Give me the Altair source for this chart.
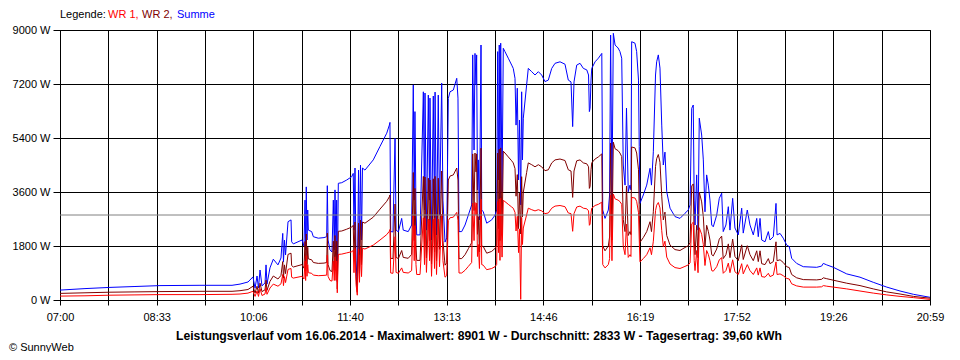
import altair as alt
import pandas as pd

# time of day in minutes after midnight
TIME_MIN = [
    420.0, 444.1, 468.2, 492.3, 516.4, 555.0, 585.9, 593.6, 601.3, 606.1,
    608.1, 610.0, 611.4, 612.9, 614.8, 617.7, 618.7, 619.6, 622.5, 625.7,
    630.2, 633.1, 634.8, 635.5, 636.5, 637.5, 639.9, 642.8, 643.4, 645.0,
    653.4, 655.3, 656.3, 656.9, 657.5, 658.2, 658.9, 659.5, 662.7, 664.3,
    669.1, 674.6, 677.2, 677.8, 678.5, 680.4, 682.3, 683.6, 684.5, 685.2,
    686.2, 686.8, 687.4, 688.4, 691.7, 696.5, 701.3, 702.8, 703.5, 704.5,
    705.5, 706.7, 707.9, 708.8, 709.8, 710.8, 711.7, 714.1, 722.1, 728.6,
    735.1, 737.6, 738.2, 738.9, 741.1, 743.1, 744.1, 746.3, 749.5, 751.0,
    755.8, 759.1, 760.7, 761.6, 762.3, 763.3, 764.0, 767.2, 770.4, 771.5,
    772.0, 773.4, 775.2, 776.4, 776.8, 778.3, 780.0, 781.2, 781.7, 783.1,
    784.8, 786.0, 788.1, 789.3, 791.3, 792.9, 794.5, 796.1, 799.3, 802.6,
    803.8, 804.8, 807.4, 810.6, 813.8, 817.0, 818.0, 819.3, 820.2, 821.2,
    821.8, 822.6, 823.4, 824.5, 826.0, 826.7, 828.2, 831.5, 836.3, 839.5,
    841.1, 842.1, 842.9, 843.6, 844.3, 845.0, 846.3, 847.5, 849.1, 852.3,
    855.6, 857.1, 858.8, 859.8, 861.0, 862.2, 863.1, 864.3, 865.2, 866.0,
    866.8, 870.0, 871.6, 874.9, 878.1, 881.3, 884.5, 887.7, 890.9, 894.2,
    897.4, 902.2, 907.0, 910.2, 912.8, 914.4, 915.7, 918.3, 921.5, 924.7,
    928.0, 929.7, 930.5, 931.2, 932.1, 932.8, 936.0, 939.2, 942.5, 943.4,
    945.6, 948.8, 950.0, 951.0, 952.3, 953.6, 955.3, 958.2, 960.0, 961.7,
    963.2, 964.9, 966.3, 968.0, 969.7, 970.6, 971.3, 974.5, 976.1, 977.9,
    978.6, 979.3, 982.5, 985.8, 989.0, 990.4, 992.2, 994.3, 995.4, 997.0,
    998.6, 1000.3, 1001.8, 1003.4, 1005.1, 1008.3, 1013.1, 1017.9, 1022.7, 1025.9,
    1027.6, 1029.2, 1030.7, 1031.6, 1032.4, 1034.0, 1035.3, 1036.5, 1038.8, 1040.4,
    1042.0, 1043.6, 1045.2, 1046.8, 1048.5, 1050.0, 1053.3, 1055.8, 1058.1, 1059.6,
    1062.2, 1064.5, 1066.1, 1068.7, 1070.9, 1074.1, 1077.4, 1078.9, 1082.8, 1085.4,
    1088.6, 1091.9, 1093.4, 1095.1, 1096.7, 1099.9, 1103.1, 1104.7, 1107.9, 1110.5,
    1111.5, 1114.4, 1117.5, 1120.8, 1123.3, 1125.6, 1130.4, 1136.8, 1149.7, 1154.5,
    1156.1, 1159.4, 1165.8, 1178.7, 1191.5, 1204.3, 1217.3, 1230.1, 1243.0, 1259.0,
]

SUMME = [
    330, 380, 420, 450, 480, 490, 490, 530, 600, 770,
    390, 800, 400, 1000, 470, 570, 1170, 530, 1070, 1360,
    1170, 1400, 2220, 1270, 2000, 1500, 2610, 2670, 1940, 1870,
    2000, 1800, 3330, 1670, 3770, 2000, 3000, 2330, 2280, 2110,
    2060, 2080, 2110, 3810, 2000, 1670, 1600, 3330, 1670, 3670,
    1670, 3330, 610, 3890, 3910, 4000, 4110, 4220, 2330, 4400,
    1330, 430, 4330, 1500, 4500, 2000, 4400, 4330, 4670, 5120,
    5560, 5830, 5920, 2280, 2270, 5390, 2330, 2270, 2720, 2330,
    2280, 2500, 7170, 3330, 6280, 3000, 2170, 2170, 6940, 3000,
    6900, 2330, 6830, 3330, 6730, 2000, 6800, 2670, 6930, 2170,
    6830, 2830, 7230, 3330, 1930, 2070, 6720, 6940, 7000, 7390,
    6730, 2280, 2280, 2500, 2830, 3170, 8170, 5000, 8220, 7170,
    8170, 3670, 4670, 2670, 8500, 3000, 2940, 2560, 2670, 2830,
    3000, 8280, 4000, 8500, 3330, 8560, 3610, 8390, 8280, 8060,
    7830, 7720, 7390, 5830, 7060, 4000, 6000, 3170, 6940, 4670,
    6060, 7170, 7720, 7610, 7500, 7610, 7500, 7280, 7330, 7720,
    7890, 7940, 7860, 7330, 7270, 5780, 7270, 7830, 7890, 7720,
    7670, 7500, 6280, 6390, 7330, 7720, 7940, 8060, 8220, 3000,
    2720, 3000, 3500, 8830, 3330, 8890, 8500, 8400, 8280, 8060,
    4500, 3830, 6400, 3610, 3830, 3670, 8610, 8560, 8280, 7330,
    5110, 3220, 3500, 3830, 4390, 3830, 4940, 7500, 7940, 8170,
    7730, 5830, 4500, 4930, 3610, 3060, 2780, 2720, 2890, 3000,
    3170, 6390, 6500, 3330, 2500, 4170, 2330, 6060, 5500, 4670,
    2940, 4170, 3830, 3330, 2500, 2440, 2830, 3390, 3560, 2280,
    2500, 3110, 2330, 3390, 2400, 2170, 3060, 2230, 3000, 2500,
    2170, 2720, 2110, 2720, 2000, 1940, 2280, 2000, 2110, 3220,
    2170, 2220, 2060, 1830, 1780, 1390, 1220, 1110, 1090, 1130,
    1220, 1170, 1090, 870, 760, 590, 430, 300, 190, 90,
]

WR2 = [
    220, 240, 260, 270, 280, 290, 290, 310, 350, 460,
    230, 460, 230, 560, 280, 340, 660, 320, 620, 800,
    700, 820, 1280, 730, 1170, 880, 1520, 1560, 1150, 1100,
    1180, 1060, 1950, 980, 2200, 1180, 1760, 1370, 1340, 1250,
    1220, 1230, 1250, 2230, 1180, 980, 950, 1960, 990, 2150,
    990, 1960, 370, 2290, 2300, 2360, 2430, 2490, 1380, 2600,
    790, 260, 2560, 890, 2660, 1180, 2600, 2560, 2760, 3030,
    3290, 3440, 3500, 1390, 1380, 3200, 1420, 1380, 1650, 1420,
    1390, 1520, 4250, 1980, 3720, 1790, 1320, 1320, 4120, 1790,
    4100, 1400, 4060, 1980, 4000, 1200, 4040, 1600, 4120, 1300,
    4060, 1690, 4300, 1980, 1160, 1240, 4000, 4130, 4170, 4400,
    4000, 1380, 1380, 1510, 1710, 1910, 4870, 2980, 4900, 4270,
    4870, 2190, 2780, 1600, 5060, 1800, 1780, 1560, 1620, 1720,
    1820, 4900, 2380, 5030, 1980, 5070, 2150, 4960, 4900, 4770,
    4640, 4570, 4380, 3460, 4180, 2380, 3560, 2200, 4110, 2770,
    3590, 4250, 4570, 4510, 4440, 4510, 4440, 4310, 4340, 4570,
    4670, 4700, 4650, 4340, 4300, 3420, 4300, 4640, 4670, 4570,
    4540, 4440, 3720, 3780, 4340, 4570, 4700, 4770, 4870, 1800,
    1640, 1800, 2100, 5230, 2000, 5260, 5040, 4980, 4900, 4780,
    2680, 2280, 3800, 2150, 2280, 2180, 5100, 5070, 4900, 4340,
    3030, 1920, 2080, 2280, 2610, 2280, 2940, 4450, 4710, 4850,
    4590, 3460, 2670, 2930, 2150, 1830, 1680, 1650, 1750, 1810,
    1910, 3800, 3870, 2000, 1510, 2490, 1410, 3600, 3270, 2780,
    1770, 2490, 2290, 2000, 1510, 1470, 1700, 2030, 2130, 1380,
    1510, 1870, 1410, 2030, 1450, 1310, 1840, 1350, 1810, 1510,
    1310, 1640, 1280, 1640, 1210, 1180, 1380, 1210, 1280, 1940,
    1310, 1340, 1250, 1110, 1080, 850, 740, 680, 670, 690,
    740, 710, 660, 560, 480, 370, 270, 200, 120, 60,
]

WR1 = [
    130, 140, 160, 170, 180, 180, 190, 200, 230, 290,
    120, 300, 120, 380, 150, 200, 420, 190, 400, 530,
    460, 540, 850, 480, 780, 580, 1020, 1050, 760, 730,
    790, 700, 1300, 650, 1480, 790, 1180, 910, 890, 830,
    810, 820, 830, 1500, 790, 650, 630, 1300, 650, 1440,
    650, 1300, 240, 1520, 1530, 1570, 1610, 1650, 910, 1720,
    520, 160, 1700, 590, 1760, 780, 1720, 1700, 1830, 2000,
    2180, 2290, 2350, 900, 890, 2110, 920, 890, 1070, 920,
    900, 980, 2830, 1310, 2480, 1180, 850, 850, 2740, 1180,
    2720, 920, 2700, 1310, 2660, 790, 2690, 1050, 2740, 850,
    2700, 1110, 2860, 1310, 760, 810, 2650, 2740, 2760, 2920,
    2660, 900, 900, 990, 1120, 1250, 3230, 1980, 3250, 2830,
    3230, 1450, 1850, 1050, 3360, 1180, 1160, 1010, 1050, 1110,
    1180, 3280, 1580, 3370, 1320, 3390, 1430, 3320, 3280, 3190,
    3100, 3060, 2920, 2300, 2790, 1580, 2370, 20, 2750, 1850,
    2400, 2840, 3060, 3010, 2970, 3010, 2970, 2880, 2900, 3060,
    3130, 3150, 3110, 2900, 2880, 2290, 2880, 3100, 3130, 3060,
    3040, 2970, 2490, 2530, 2900, 3060, 3150, 3190, 3260, 1180,
    1070, 1180, 1380, 3500, 1310, 3530, 3370, 3330, 3280, 3190,
    1780, 1510, 2530, 1420, 1510, 1450, 3420, 3400, 3290, 2910,
    2030, 1270, 1380, 1510, 1740, 1510, 1960, 2980, 3160, 3250,
    3070, 2310, 1780, 1960, 1430, 1200, 1080, 1050, 1120, 1170,
    1240, 2540, 2590, 1310, 980, 1650, 910, 2410, 2190, 1850,
    1150, 1650, 1520, 1310, 980, 960, 1110, 1340, 1410, 890,
    980, 1230, 910, 1340, 940, 850, 1210, 870, 1180, 980,
    850, 1070, 830, 1070, 780, 760, 890, 780, 830, 1270,
    850, 870, 810, 720, 700, 540, 470, 430, 430, 440,
    480, 460, 430, 370, 300, 230, 170, 120, 80, 20,
]

SERIES = ["WR 1", "WR 2", "Summe"]
COLORS = ["#ff0000", "#800000", "#0000ff"]
Y_TICKS = [0, 1800, 3600, 5400, 7200, 9000]
X_LABELS = ["07:00", "08:33", "10:06", "11:40", "13:13",
            "14:46", "16:19", "17:52", "19:26", "20:59"]
T_START, T_END = 420, 1259
AVERAGE = 2833
TITLE = ("Leistungsverlauf vom 16.06.2014 - Maximalwert: 8901 W - "
         "Durchschnitt: 2833 W - Tagesertrag: 39,60 kWh")
COPYRIGHT = "© SunnyWeb"
LEGEND_HEAD = "Legende:"
LEGEND_ITEMS = ["WR 1,", "WR 2,", "Summe"]

FONT = "Liberation Sans"

df = pd.concat([
    pd.DataFrame({"t": TIME_MIN, "value": WR1, "series": "WR 1"}),
    pd.DataFrame({"t": TIME_MIN, "value": WR2, "series": "WR 2"}),
    pd.DataFrame({"t": TIME_MIN, "value": SUMME, "series": "Summe"}),
])

n_int = 2 * (len(X_LABELS) - 1)
step = (T_END - T_START) / n_int
x_ticks = [T_START + i * step for i in range(n_int + 1)]
full_labels = []
for i, lab in enumerate(X_LABELS):
    full_labels.append(lab)
    if i < len(X_LABELS) - 1:
        full_labels.append("")
labels_js = "[" + ",".join("'" + l + "'" for l in full_labels) + "]"

x_enc = alt.X(
    "t:Q",
    scale=alt.Scale(domain=[T_START, T_END], nice=False, zero=False),
    axis=alt.Axis(
        values=x_ticks, title=None, grid=True, gridColor="black", gridOpacity=1,
        gridWidth=1, domainColor="black", tickColor="black", tickSize=5,
        labelFont=FONT, labelFontSize=11, labelColor="black", labelPadding=6,
        labelExpr=f"{labels_js}[round((datum.value - {T_START}) / {step})]",
        labelOverlap=False, labelFlush=False,
    ),
)
y_enc = alt.Y(
    "value:Q",
    scale=alt.Scale(domain=[0, 9000], nice=False),
    axis=alt.Axis(
        values=Y_TICKS, title=None, grid=True, gridColor="black", gridOpacity=1,
        gridWidth=1, domainColor="black", tickColor="black", tickSize=7,
        labelFont=FONT, labelFontSize=11, labelColor="black", labelPadding=3,
        labelExpr="datum.value + ' W'", labelOverlap=False,
    ),
)

base = alt.Chart(df)
layers = []
for name in ["Summe", "WR 2", "WR 1"]:
    col = COLORS[SERIES.index(name)]
    layers.append(
        base.transform_filter(alt.datum.series == name)
        .mark_line(color=col, strokeWidth=1, interpolate="linear")
        .encode(x=x_enc, y=y_enc, order="t:Q")
    )

avg = alt.Chart(pd.DataFrame({"v": [AVERAGE]})).mark_rule(
    color="#808080", strokeWidth=1
).encode(y="v:Q")

title = alt.Chart(pd.DataFrame({"s": [TITLE]})).mark_text(
    font=FONT, fontSize=12.2, fontWeight="bold", color="black",
    align="center", baseline="middle"
).encode(text="s:N", x=alt.value(419), y=alt.value(306))

copy = alt.Chart(pd.DataFrame({"s": [COPYRIGHT]})).mark_text(
    font=FONT, fontSize=11, color="black", align="left", baseline="middle"
).encode(text="s:N", x=alt.value(-51), y=alt.value(318))

leg_df = pd.DataFrame({
    "s": [LEGEND_HEAD] + LEGEND_ITEMS,
    "px": [0, 48, 82, 117],
    "c": ["black"] + COLORS,
})
legend = alt.Chart(leg_df).mark_text(
    font=FONT, fontSize=11, align="left", baseline="middle"
).encode(
    text="s:N",
    x=alt.X("px:Q", scale=None),
    y=alt.value(-15),
    color=alt.Color("c:N", scale=None),
)

chart = alt.layer(*layers, avg, title, copy, legend).properties(
    width=870, height=270,
    autosize=alt.AutoSizeParams(type="none"),
    padding={"left": 52, "top": 22, "right": 22, "bottom": 52},
    background="white",
).configure_view(stroke="black", strokeWidth=1)

chart.save("out.html", embed_options={"renderer": "svg", "actions": False})
